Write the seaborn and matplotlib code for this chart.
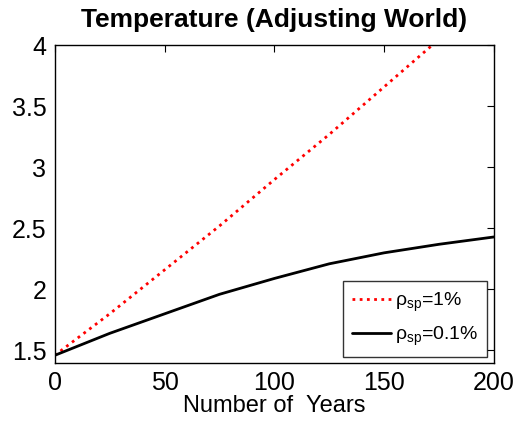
import pandas as pd
import matplotlib
matplotlib.use("Agg")
import matplotlib.pyplot as plt
import seaborn as sns

# values
years = [0, 25, 50, 75, 100, 125, 150, 175, 200]
temp_rho_1 = [1.46, 1.80, 2.16, 2.52, 2.90, 3.27, 3.66, 4.05, 4.45]
temp_rho_01 = [1.46, 1.64, 1.80, 1.96, 2.09, 2.21, 2.30, 2.37, 2.43]
labels = ["ρ$_{\\mathrm{sp}}$=1%", "ρ$_{\\mathrm{sp}}$=0.1%"]

df = pd.DataFrame({
    "year": years * 2,
    "temp": temp_rho_1 + temp_rho_01,
    "series": [labels[0]] * len(years) + [labels[1]] * len(years),
})

sns.set_style("white")
plt.rcParams["font.family"] = ["Liberation Sans", "DejaVu Sans"]
plt.rcParams["mathtext.fontset"] = "custom"
plt.rcParams["mathtext.rm"] = "Liberation Sans"
plt.rcParams["text.color"] = "black"
plt.rcParams["axes.labelcolor"] = "black"

fig = plt.figure(figsize=(5.23, 4.23), dpi=100)
ax = fig.add_axes([0.1046, 0.1426, 0.84, 0.7503])

sns.lineplot(data=df, x="year", y="temp", hue="series", style="series",
             palette={labels[0]: "#ff0000", labels[1]: "black"},
             dashes={labels[0]: (1, 1.6), labels[1]: ""},
             linewidth=2, ax=ax)

ax.set_xlim(0, 200)
ax.set_ylim(1.4, 4)
ax.set_xticks([0, 50, 100, 150, 200])
ax.set_yticks([1.5, 2, 2.5, 3, 3.5, 4])
ax.set_yticklabels(["1.5", "2", "2.5", "3", "3.5", "4"])
ax.tick_params(direction="in", length=5, width=0.8, top=True, right=True,
               labelsize=18, pad=6, colors="black")
for s in ax.spines.values():
    s.set_color("black")
    s.set_linewidth(1)

ax.set_xlabel("Number of  Years", fontsize=17, labelpad=0)
ax.set_ylabel("")
ax.set_title("Temperature (Adjusting World)", fontsize=19, fontweight="bold", pad=13)

leg = ax.legend(loc="lower right", fontsize=14, frameon=True, fancybox=False,
                edgecolor="black", handlelength=2.0, borderpad=0.45,
                labelspacing=0.55, handletextpad=0.2, borderaxespad=0,
                bbox_to_anchor=(0.984, 0.019))
leg.get_frame().set_linewidth(1)

fig.savefig("out.png", dpi=100)
